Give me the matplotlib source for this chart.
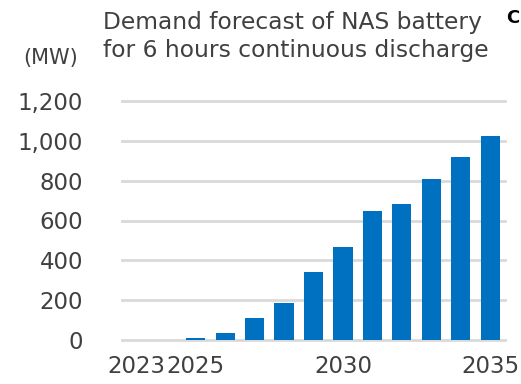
import matplotlib
matplotlib.use("Agg")
import matplotlib.pyplot as plt

years = ["2023", "2024", "2025", "2026", "2027", "2028", "2029",
         "2030", "2031", "2032", "2033", "2034", "2035"]
demand_mw = [0, 0, 8, 33, 109, 184, 340, 467, 648, 683, 809, 920, 1025]
shown_ticks = ["2023", "2025", "2030", "2035"]
y_ticks = [0, 200, 400, 600, 800, 1000, 1200]

text_color = "#404040"
bar_color = "#0070C0"
grid_color = "#D9D9D9"

fig = plt.figure(figsize=(5.21, 3.84), dpi=100)
ax = fig.add_axes([122/521, 1 - 340/384, 383/521, 239/384])

x = list(range(len(years)))
ax.bar(x, demand_mw, width=0.65, color=bar_color, zorder=3)

ax.set_xlim(-0.5, len(years) - 0.5)
ax.set_ylim(0, 1200)
ax.set_yticks(y_ticks)
ax.set_yticklabels([f"{v:,}" for v in y_ticks])
ax.set_xticks([years.index(t) for t in shown_ticks])
ax.set_xticklabels(shown_ticks)

for s in ax.spines.values():
    s.set_visible(False)
ax.yaxis.grid(True, color=grid_color, linewidth=2, zorder=0)
for gl in ax.get_ygridlines():
    gl.set_clip_on(False)
ax.tick_params(axis="both", length=0, labelsize=16.5, colors=text_color)
ax.tick_params(axis="y", pad=28)
ax.tick_params(axis="x", pad=11)

fig.text(103/521, 1 - 22/384, "Demand forecast of NAS battery", fontsize=16.8,
         color=text_color, ha="left", va="center")
fig.text(103/521, 1 - 50/384, "for 6 hours continuous discharge", fontsize=16.8,
         color=text_color, ha="left", va="center")
fig.text(51/521, 1 - 58/384, "(MW)", fontsize=15, color=text_color,
         ha="center", va="center")
fig.text(506/521, 1 - 18/384, "C", fontsize=13, fontweight="bold",
         color="black", ha="left", va="center")

fig.savefig("out.png", dpi=100)
